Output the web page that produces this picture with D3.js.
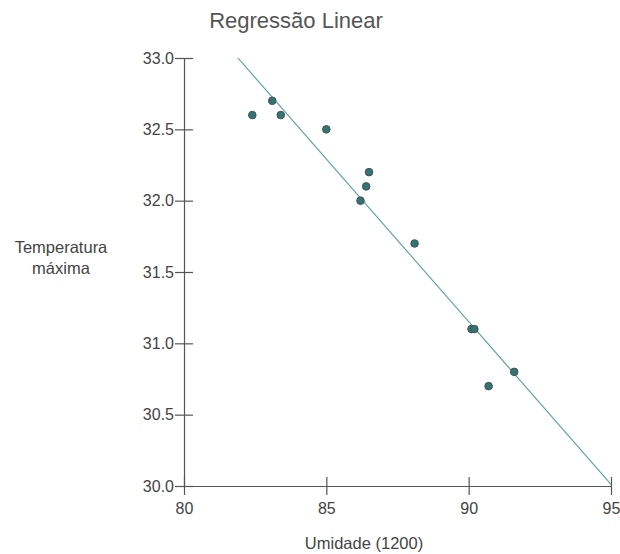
<!DOCTYPE html>
<html>
<head>
<meta charset="utf-8">
<script src="https://cdn.jsdelivr.net/npm/d3@7"></script>
<style>
  html, body { margin: 0; padding: 0; background: #fff; }
  svg { display: block; font-family: "Liberation Sans", Arial, sans-serif; }
</style>
</head>
<body>
<svg id="chart" width="620" height="554"></svg>
<script>
// Umidade (12:00) vs. temperatura máxima
const umidade     = [82.4, 83.1, 83.4, 85.0, 86.5, 86.4, 86.2, 88.1, 90.1, 90.2, 91.6, 90.7];
const temperatura = [32.6, 32.7, 32.6, 32.5, 32.2, 32.1, 32.0, 31.7, 31.1, 31.1, 30.8, 30.7];
const xTicks = [80, 85, 90, 95];
const yTicks = [30.0, 30.5, 31.0, 31.5, 32.0, 32.5, 33.0];

const svg = d3.select("#chart");
const margin = { left: 184, right: 9, top: 58, bottom: 68 };
const W = 620, H = 554;

const x = d3.scaleLinear().domain([80, 95]).range([margin.left, W - margin.right]);
const y = d3.scaleLinear().domain([30, 33]).range([H - margin.bottom, margin.top]);

// least-squares fit
const n = umidade.length;
const mx = d3.mean(umidade), my = d3.mean(temperatura);
let sxy = 0, sxx = 0;
for (let i = 0; i < n; i++) {
  sxy += (umidade[i] - mx) * (temperatura[i] - my);
  sxx += (umidade[i] - mx) ** 2;
}
const slope = sxy / sxx, intercept = my - slope * mx;
const fit = v => intercept + slope * v;
// segment of the fitted line inside the plot domain
const x0 = Math.max(80, (33 - intercept) / slope);
const x1 = Math.min(95, (30 - intercept) / slope);

svg.append("defs").append("clipPath").attr("id", "plot")
  .append("rect")
  .attr("x", margin.left).attr("y", margin.top)
  .attr("width", W - margin.left - margin.right)
  .attr("height", H - margin.top - margin.bottom);

// axes
const axisColor = "#555";
const textColor = "#444";

const xAxis = svg.append("g")
  .attr("transform", `translate(0,${H - margin.bottom})`)
  .call(d3.axisBottom(x).tickValues(xTicks).tickFormat(d3.format("d")).tickSizeInner(9).tickSizeOuter(0).tickPadding(8));
xAxis.selectAll(".tick line").attr("y1", -9);

const yAxis = svg.append("g")
  .attr("transform", `translate(${margin.left},0)`)
  .call(d3.axisLeft(y).tickValues(yTicks).tickFormat(d3.format(".1f")).tickSizeInner(9).tickSizeOuter(0).tickPadding(1));
yAxis.selectAll(".tick line").attr("x1", 9);

[xAxis, yAxis].forEach(g => {
  g.select(".domain").attr("stroke", axisColor).attr("stroke-width", 1.2);
  g.selectAll(".tick line").attr("stroke", axisColor).attr("stroke-width", 1.2);
  g.selectAll(".tick text").attr("fill", textColor).style("font-size", "16px");
});

// regression line
svg.append("line")
  .attr("clip-path", "url(#plot)")
  .attr("x1", x(x0)).attr("y1", y(fit(x0)))
  .attr("x2", x(x1)).attr("y2", y(fit(x1)))
  .attr("stroke", "#5a9f9d")
  .attr("stroke-width", 1.1);

// observations
svg.append("g").selectAll("circle")
  .data(d3.range(n))
  .join("circle")
  .attr("cx", i => x(umidade[i]))
  .attr("cy", i => y(temperatura[i]))
  .attr("r", 3.8)
  .attr("fill", "#2f7674")
  .attr("stroke", "#4a4f4f")
  .attr("stroke-width", 1);

// titles
svg.append("text")
  .attr("x", 296).attr("y", 28)
  .attr("text-anchor", "middle")
  .attr("fill", "#555")
  .style("font-size", "22px")
  .text("Regressão Linear");

svg.append("text")
  .attr("x", 364).attr("y", 549)
  .attr("text-anchor", "middle")
  .attr("fill", textColor)
  .style("font-size", "16.5px")
  .text("Umidade (1200)");

const yl = svg.append("text")
  .attr("text-anchor", "middle")
  .attr("fill", textColor)
  .style("font-size", "16.5px");
yl.append("tspan").attr("x", 61).attr("y", 253).text("Temperatura");
yl.append("tspan").attr("x", 61).attr("y", 274).text("máxima");
</script>
</body>
</html>
